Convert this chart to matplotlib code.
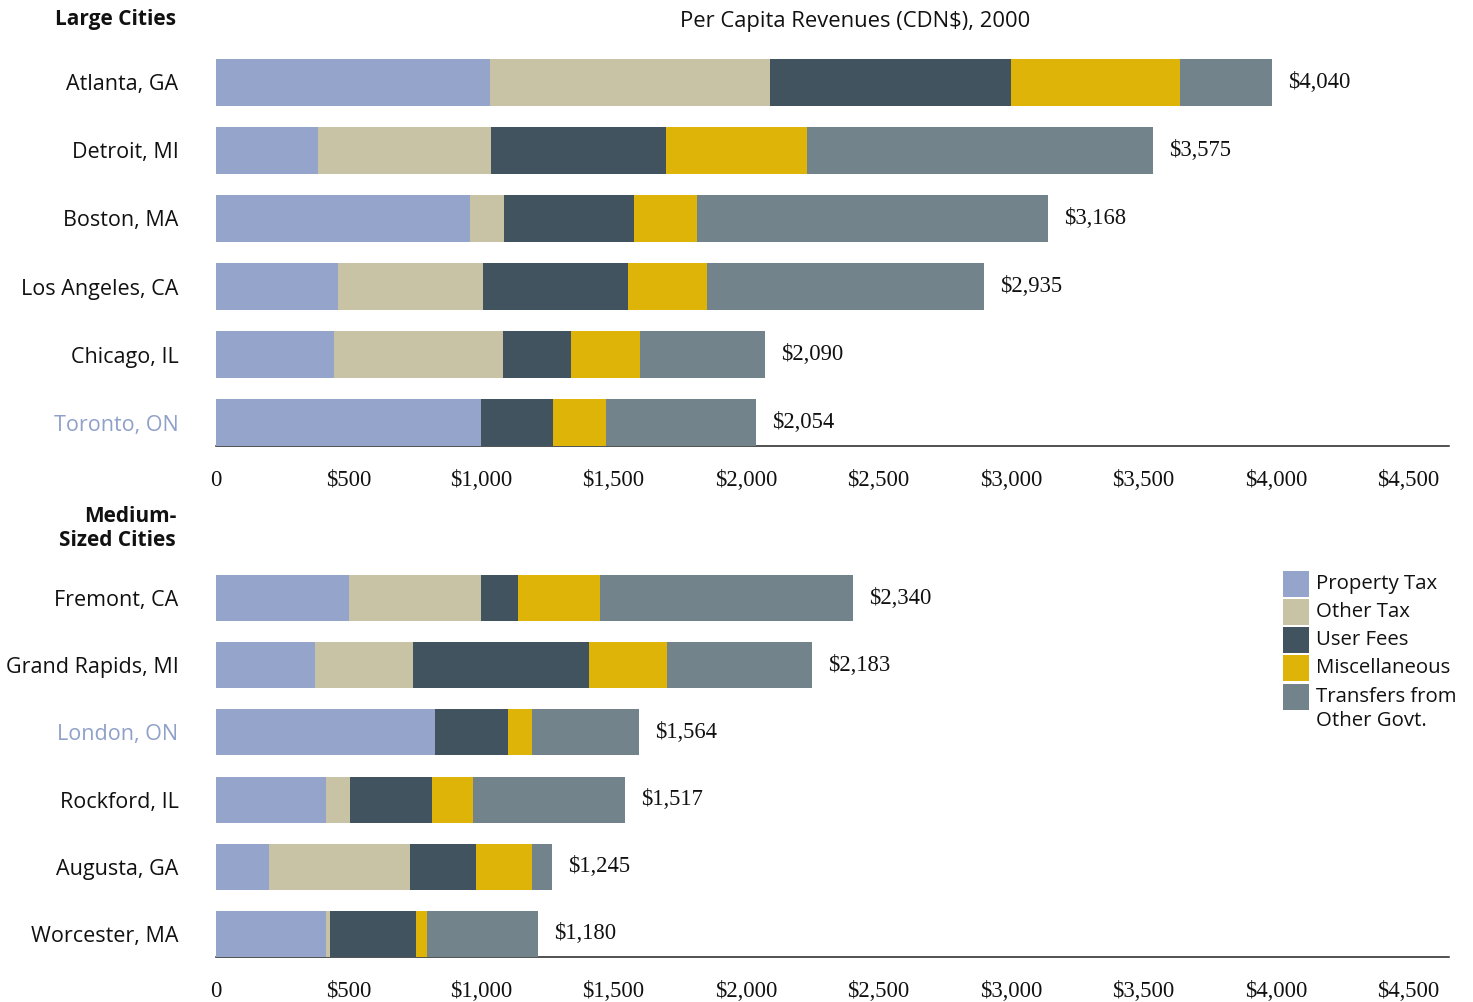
import matplotlib
matplotlib.use("Agg")
import matplotlib.pyplot as plt
from matplotlib.patches import Rectangle
from matplotlib.transforms import ScaledTranslation

# ---------------- data ----------------
categories = ["Property Tax", "Other Tax", "User Fees", "Miscellaneous",
              "Transfers from\nOther Govt."]
colors = ["#94A4CB", "#C8C3A4", "#41535E", "#DEB408", "#72838C"]

large_cities = ["Atlanta, GA", "Detroit, MI", "Boston, MA", "Los Angeles, CA",
                "Chicago, IL", "Toronto, ON"]
large_property = [1034, 385, 958, 460, 445, 1000]
large_other = [1057, 653, 128, 547, 638, 0]
large_user = [909, 660, 491, 547, 257, 272]
large_misc = [638, 532, 238, 298, 260, 200]
large_transfers = [347, 1306, 1325, 1045, 472, 566]
large_totals = ["$4,040", "$3,575", "$3,168", "$2,935", "$2,090", "$2,054"]

medium_cities = ["Fremont, CA", "Grand Rapids, MI", "London, ON", "Rockford, IL",
                 "Augusta, GA", "Worcester, MA"]
medium_property = [502, 374, 826, 415, 200, 415]
medium_other = [498, 370, 0, 91, 532, 15]
medium_user = [140, 664, 275, 309, 249, 325]
medium_misc = [309, 294, 91, 155, 211, 42]
medium_transfers = [955, 547, 404, 574, 75, 419]
medium_totals = ["$2,340", "$2,183", "$1,564", "$1,517", "$1,245", "$1,180"]

canadian = ["Toronto, ON", "London, ON"]

xticks = [0, 500, 1000, 1500, 2000, 2500, 3000, 3500, 4000, 4500]
xticklabels = ["0", "$500", "$1,000", "$1,500", "$2,000", "$2,500", "$3,000",
               "$3,500", "$4,000", "$4,500"]

# ---------------- layout ----------------
W, H = 1473, 1002
fig = plt.figure(figsize=(W / 100, H / 100), dpi=100)

SANS = ["Open Sans", "DejaVu Sans"]
SERIF = ["Liberation Serif", "DejaVu Serif"]
XMAX = (1449 - 216) / 0.265


def px_axes(x0, y0, x1, y1):
    return fig.add_axes([x0 / W, 1 - y1 / H, (x1 - x0) / W, (y1 - y0) / H])


def draw_panel(ax, cities, series, totals, half):
    ys = list(range(len(cities)))
    left = [0] * len(cities)
    for vals, col in zip(series, colors):
        ax.barh(ys, vals, left=left, height=2 * half, color=col,
                edgecolor="none", zorder=3)
        left = [l + v for l, v in zip(left, vals)]
    for y, tot, txt in zip(ys, left, totals):
        ax.annotate(txt, xy=(tot, y), xytext=(11.5, 0), textcoords="offset points",
                    ha="left", va="center", fontsize=16.3, family=SERIF,
                    color="#111111")
    ax.set_xlim(0, XMAX)
    ax.set_ylim(len(cities) - 1 + half, -half)
    ax.set_yticks(ys)
    ax.set_yticklabels(cities, family=SANS, fontsize=15.5)
    shift = ScaledTranslation(0, -3 / 100, fig.dpi_scale_trans)
    for lab in ax.get_yticklabels():
        lab.set_transform(lab.get_transform() + shift)
        if lab.get_text() in canadian:
            lab.set_color("#8FA0C9")
        else:
            lab.set_color("#111111")
    ax.set_xticks(xticks)
    ax.set_xticklabels(xticklabels, family=SERIF, fontsize=16.3, color="#111111")
    ax.tick_params(axis="y", length=0, pad=27)
    ax.tick_params(axis="x", length=0, pad=17)
    for s in ["top", "right", "left"]:
        ax.spines[s].set_visible(False)
    ax.spines["bottom"].set_color("#222222")
    ax.spines["bottom"].set_linewidth(1.1)
    ax.set_facecolor("none")


ax1 = px_axes(216, 59, 1449, 446)
draw_panel(ax1, large_cities,
           [large_property, large_other, large_user, large_misc, large_transfers],
           large_totals, 0.345)

ax2 = px_axes(216, 575, 1449, 957)
draw_panel(ax2, medium_cities,
           [medium_property, medium_other, medium_user, medium_misc, medium_transfers],
           medium_totals, 0.3425)

# titles
fig.text(855 / W, 1 - 21 / H, "Per Capita Revenues (CDN$), 2000", ha="center",
         va="center", family=SANS, fontsize=15.8, color="#111111")
fig.text(176 / W, 1 - 19 / H, "Large Cities", ha="right", va="center",
         family=SANS, fontsize=15, fontweight="bold", color="#111111")
fig.text(176 / W, 1 - 516 / H, "Medium-", ha="right", va="center",
         family=SANS, fontsize=15, fontweight="bold", color="#111111")
fig.text(176 / W, 1 - 540 / H, "Sized Cities", ha="right", va="center",
         family=SANS, fontsize=15, fontweight="bold", color="#111111")

# legend
leg_tops = [571, 599, 627, 655, 684]
for top, col, lab in zip(leg_tops, colors, categories):
    fig.add_artist(Rectangle((1283 / W, 1 - (top + 26) / H), 26 / W, 26 / H,
                             transform=fig.transFigure, facecolor=col,
                             edgecolor="none"))
    lines = lab.split("\n")
    for i, line in enumerate(lines):
        fig.text(1316 / W, 1 - (top + 13 + 24 * i) / H, line, ha="left",
                 va="center", family=SANS, fontsize=14.7, color="#111111")

fig.savefig("out.png", dpi=100)
